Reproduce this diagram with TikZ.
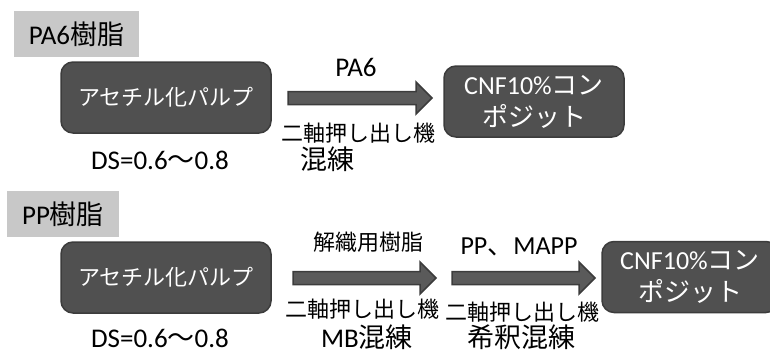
\documentclass[tikz,border=0pt]{standalone}
\usepackage{fontspec}
\setmainfont{Carlito}
\newfontfamily\jp{Noto Sans CJK JP}
\definecolor{boxfill}{HTML}{505050}
\definecolor{boxline}{HTML}{3C3C3C}
\definecolor{arrfill}{HTML}{5A5A5A}
\definecolor{labfill}{HTML}{C8C8C8}
\tikzset{
  darkbox/.style={rounded corners=12pt, fill=boxfill, draw=boxline, line width=1.5pt,
    text=white, align=center, inner sep=0pt, font=\fontsize{22}{26}\selectfont},
  labbox/.style={fill=labfill, inner sep=0pt, font=\fontsize{27}{30}\selectfont},
  blockarr/.style={fill=arrfill, draw=boxline, line width=1.5pt, line join=miter},
  lbl/.style={inner sep=0pt, font=\fontsize{22}{26}\selectfont},
  biglbl/.style={inner sep=0pt, font=\fontsize{27}{30}\selectfont},
}
\newcommand{\blockarrow}[4]{% name, x-start, x-tip, y
  \coordinate (#1s) at (#2,#4);
  \coordinate (#1t) at (#3,#4);
  \draw[blockarr] (#2,#4-6.5) -- (#3-16,#4-6.5) -- (#3-16,#4-16) -- (#3,#4)
    -- (#3-16,#4+16) -- (#3-16,#4+6.5) -- (#2,#4+6.5) -- cycle;
}
\begin{document}
\begin{tikzpicture}[x=1pt,y=-1pt]
\useasboundingbox (0,0) rectangle (770,353);
% ---- top row
\node[labbox, minimum width=125pt, minimum height=46pt] (lab1) at (76.5,34) {PA6{\jp 樹脂}};
\node[darkbox, minimum width=210pt, minimum height=71pt] (a1) at (166,97.5) {\jp アセチル化パルプ};
\node[darkbox, minimum width=180pt, minimum height=71pt, font=\fontsize{26}{32}\selectfont] (c1) at (534,101.5) {CNF10\%{\jp コン}\\{\jp ポジット}};
\blockarrow{ar1}{288}{432}{98}
\node[biglbl] (t1) at (356,67) {PA6};
\node[lbl] (m1) at (358,133) {\jp 二軸押し出し機};
\node[biglbl] (k1) at (327,159) {\jp 混練};
\node[biglbl] (d1) at (160,160) {DS=0.6{\jp ～}0.8};
% ---- bottom row
\node[labbox, minimum width=112pt, minimum height=46pt] (lab2) at (63,214) {PP{\jp 樹脂}};
\node[darkbox, minimum width=210pt, minimum height=71pt] (a2) at (166,277.5) {\jp アセチル化パルプ};
\node[darkbox, minimum width=176pt, minimum height=71pt, font=\fontsize{26}{32}\selectfont] (c2) at (690,277) {CNF10\%{\jp コン}\\{\jp ポジット}};
\blockarrow{ar2}{293}{436}{278}
\blockarrow{ar3}{452}{595}{278}
\node[lbl] (t2) at (368,242) {\jp 解織用樹脂};
\node[biglbl, font=\fontsize{26}{30}\selectfont] (t3) at (519,247) {PP{\jp 、}MAPP};
\node[lbl] (m2) at (362,309) {\jp 二軸押し出し機};
\node[lbl] (m3) at (522,312) {\jp 二軸押し出し機};
\node[biglbl] (k2) at (367,337) {MB{\jp 混練}};
\node[biglbl] (k3) at (521,337) {\jp 希釈混練};
\node[biglbl] (d2) at (160,338) {DS=0.6{\jp ～}0.8};
\end{tikzpicture}
\end{document}
